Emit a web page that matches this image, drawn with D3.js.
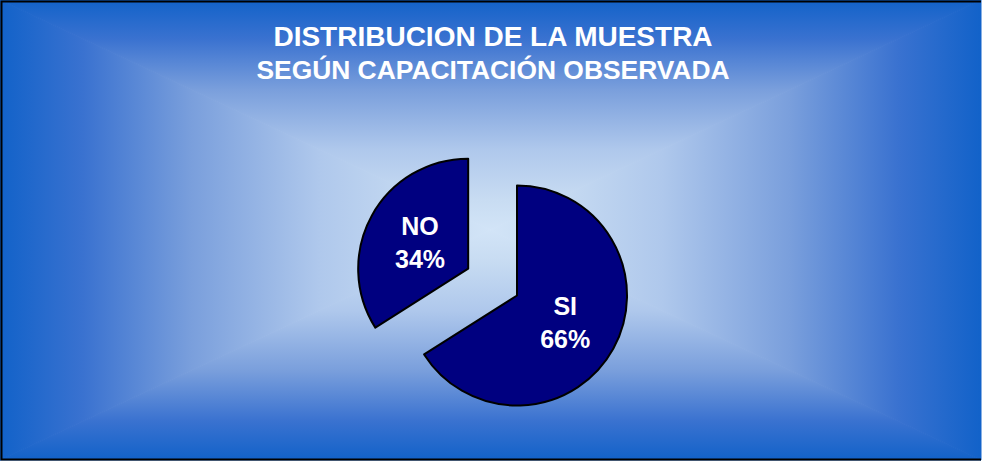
<!DOCTYPE html>
<html>
<head>
<meta charset="utf-8">
<script src="https://cdn.jsdelivr.net/npm/d3@7"></script>
<style>
  body { margin: 0; background: #fff; }
  svg { display: block; }
</style>
</head>
<body>
<div id="chart"></div>
<script>
let categories = ["SI", "NO"];
let values = [66, 34];
let percentLabels = ["66%", "34%"];
let titleLines = ["DISTRIBUCION DE LA MUESTRA", "SEGÚN CAPACITACIÓN OBSERVADA"];
let explodedCategory = "NO";

let W = 981, H = 460;
let cx = W / 2, cy = H / 2;

let svg = d3.select("#chart")
  .append("svg")
  .attr("width", 984)
  .attr("height", 462);

let defs = svg.append("defs");

// "from center" style gradient built from four triangles
let stops = [
  [0, "#1262c9"], [0.17, "#3a72d0"], [0.39, "#7a9fdc"],
  [0.65, "#afc8ec"], [0.87, "#c8dcf2"], [1, "#d2e4f7"]
];
let sides = [
  { id: "gTop", x1: 0, y1: 0, x2: 0, y2: cy, pts: [[0, 0], [W, 0], [cx, cy]] },
  { id: "gBottom", x1: 0, y1: H, x2: 0, y2: cy, pts: [[0, H], [W, H], [cx, cy]] },
  { id: "gLeft", x1: 0, y1: 0, x2: cx, y2: 0, pts: [[0, 0], [0, H], [cx, cy]] },
  { id: "gRight", x1: W, y1: 0, x2: cx, y2: 0, pts: [[W, 0], [W, H], [cx, cy]] }
];
sides.forEach((s) => {
  let g = defs.append("linearGradient")
    .attr("id", s.id)
    .attr("gradientUnits", "userSpaceOnUse")
    .attr("x1", s.x1).attr("y1", s.y1)
    .attr("x2", s.x2).attr("y2", s.y2);
  stops.forEach((st) => {
    g.append("stop").attr("offset", st[0]).attr("stop-color", st[1]);
  });
});

let bg = svg.append("g");
sides.forEach((s) => {
  bg.append("path")
    .attr("d", "M" + s.pts.map((p) => p.join(",")).join("L") + "Z")
    .attr("fill", "url(#" + s.id + ")")
    .attr("stroke", "url(#" + s.id + ")")
    .attr("stroke-width", 1);
});

// frame: left, top and bottom edges only
svg.append("path")
  .attr("d", "M" + W + ",1.5H1.5V" + (H - 0.5) + "H" + W)
  .attr("fill", "none")
  .attr("stroke", "#000")
  .attr("stroke-width", 2);

// title
svg.selectAll("text.title")
  .data(titleLines)
  .enter()
  .append("text")
  .attr("class", "title")
  .attr("x", 493)
  .attr("y", (d, i) => i === 0 ? 46 : 79)
  .attr("text-anchor", "middle")
  .style("font-family", "'Liberation Sans', Arial, sans-serif")
  .style("font-weight", "bold")
  .style("font-size", (d, i) => i === 0 ? "28px" : "26.4px")
  .style("fill", "#fff")
  .text((d) => d);

// pie
let pieCx = 517, pieCy = 295.5, r = 110, explode = 55.7;

let pie = d3.pie().sort(null).value((d) => d.value);
let rows = categories.map((c, i) => ({ name: c, value: values[i], pct: percentLabels[i] }));
let arcs = pie(rows);
let arc = d3.arc().innerRadius(0).outerRadius(r);

let slices = svg.selectAll("g.slice")
  .data(arcs)
  .enter()
  .append("g")
  .attr("class", "slice")
  .attr("transform", (d) => {
    let off = d.data.name === explodedCategory ? explode : 0;
    let a = (d.startAngle + d.endAngle) / 2;
    return "translate(" + (pieCx + off * Math.sin(a)) + "," + (pieCy - off * Math.cos(a)) + ")";
  });

slices.append("path")
  .attr("d", arc)
  .attr("fill", "#000080")
  .attr("stroke", "#000")
  .attr("stroke-width", 2)
  .attr("stroke-linejoin", "round");

let lbl = slices.append("text")
  .attr("text-anchor", "middle")
  .attr("transform", (d) => "translate(" + arc.centroid(d) + ")")
  .style("font-family", "'Liberation Sans', Arial, sans-serif")
  .style("font-weight", "bold")
  .style("font-size", "25px")
  .style("fill", "#fff");

lbl.append("tspan").attr("x", 0).attr("y", -7).text((d) => d.data.name);
lbl.append("tspan").attr("x", 0).attr("y", 26).text((d) => d.data.pct);
</script>
</body>
</html>
